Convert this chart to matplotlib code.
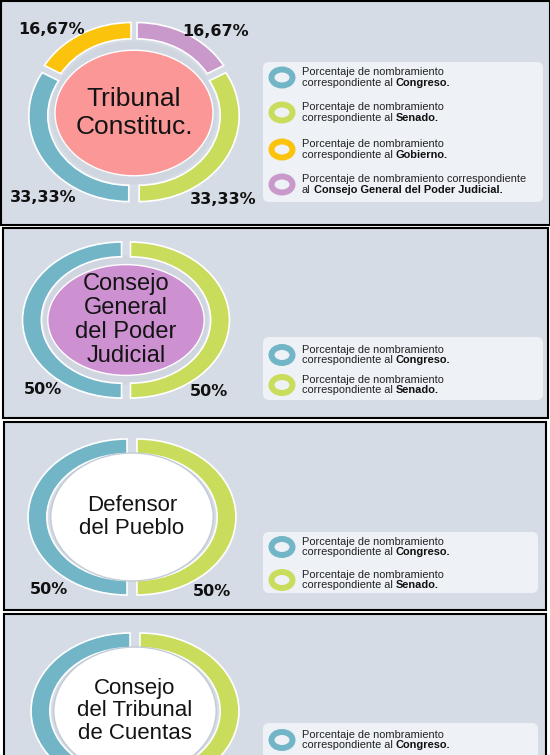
import matplotlib
matplotlib.use("Agg")
import matplotlib.pyplot as plt
from matplotlib.patches import Rectangle, FancyBboxPatch, Ellipse, Circle
from matplotlib.offsetbox import TextArea, HPacker, VPacker, AnnotationBbox

plt.rcParams['font.family'] = ['Liberation Sans', 'DejaVu Sans']

W, H = 550, 755

BG = "#d6dce5"
BOX = "#eef1f5"
BAND = "#cfd6df"
COLORS = {
    "Congreso": "#72b5c7",
    "Senado": "#c9dc5c",
    "Gobierno": "#fcc30c",
    "Consejo General del Poder Judicial": "#c999cc",
}

# --- data (ring order, counter-clockwise from the start angle) ---
TC_BODIES = ["Congreso", "Senado", "Consejo General del Poder Judicial", "Gobierno"]
TC_SHARES = [33.33, 33.33, 16.67, 16.67]
TC_LABELS = ["33,33%", "33,33%", "16,67%", "16,67%"]

CGPJ_BODIES = ["Congreso", "Senado"]
CGPJ_SHARES = [50, 50]
CGPJ_LABELS = ["50%", "50%"]

DP_BODIES = ["Congreso", "Senado"]
DP_SHARES = [50, 50]
DP_LABELS = ["50%", "50%"]

TCU_BODIES = ["Congreso", "Senado"]
TCU_SHARES = [50, 50]

LEGEND_TC = ["Congreso", "Senado", "Gobierno", "Consejo General del Poder Judicial"]
LEGEND_TWO = ["Congreso", "Senado"]

LEGEND_TEXT = {
    "Congreso": ("Porcentaje de nombramiento", "correspondiente al", "Congreso."),
    "Senado": ("Porcentaje de nombramiento", "correspondiente al", "Senado."),
    "Gobierno": ("Porcentaje de nombramiento", "correspondiente al", "Gobierno."),
    "Consejo General del Poder Judicial": ("Porcentaje de nombramiento correspondiente", "al",
                                           "Consejo General del Poder Judicial."),
}

fig = plt.figure(figsize=(W / 100, H / 100), dpi=100, facecolor="white")
ax = fig.add_axes([0, 0, 1, 1])
ax.set_xlim(0, W)
ax.set_ylim(H, 0)
ax.axis("off")


def panel(x, y, w, h):
    ax.add_patch(Rectangle((x, y), w, h, fc=BG, ec="black", lw=1.5))


def legend(box, bodies, ys):
    x0, y0, x1, y1 = box
    ax.add_patch(FancyBboxPatch((x0, y0), x1 - x0, y1 - y0,
                                boxstyle="round,pad=0,rounding_size=6", fc=BOX, ec="none"))
    for body, y in zip(bodies, ys):
        ax.add_patch(Ellipse((282, y), 21, 16, fill=False, ec=COLORS[body], lw=4.3))
        l1, l2, bold = LEGEND_TEXT[body]
        tp = dict(fontsize=7.9, color="#222222")
        line2 = HPacker(children=[TextArea(l2, textprops=tp),
                                  TextArea(bold, textprops=dict(tp, fontweight="bold", color="#111111"))],
                        align="baseline", pad=0, sep=2.2)
        block = VPacker(children=[TextArea(l1, textprops=tp), line2], align="left", pad=0, sep=0.3)
        ab = AnnotationBbox(block, (302, y), xycoords="data", box_alignment=(0, 0.5),
                            frameon=False, pad=0, annotation_clip=False)
        ax.add_artist(ab)


def ring(cx, cy, rx, ry, shares, bodies, start, explode, inner, inner_w, inner_h, width=0.19):
    lim = 1.12
    axp = fig.add_axes([(cx - lim * rx) / W, 1 - (cy + lim * ry) / H,
                        2 * lim * rx / W, 2 * lim * ry / H])
    axp.pie(shares, colors=[COLORS[b] for b in bodies], startangle=start, counterclock=True,
            explode=[explode] * len(shares),
            wedgeprops=dict(width=width, edgecolor="white", linewidth=1.2))
    axp.add_patch(Circle((0, 0), 1 - width + 0.02, fc=BAND, ec="none", zorder=0.5))
    if inner == "white":
        axp.add_patch(Circle((0, 0), 1 - width + 0.01, fc="white", ec="#c3ccd6", lw=1, zorder=2))
    else:
        axp.add_patch(Ellipse((0, 0), 2 * inner_w, 2 * inner_h, fc=inner, ec="white", lw=1, zorder=2))
    axp.set_xlim(-lim, lim)
    axp.set_ylim(-lim, lim)
    axp.set_aspect("auto")
    axp.axis("off")
    return axp


def center_text(axp, s, size, ls):
    axp.text(0, 0, s, ha="center", va="center", fontsize=size, linespacing=ls,
             color="#141414", zorder=3)


def pct_labels(labels, positions):
    for s, (x, y) in zip(labels, positions):
        fig.text(x, y, s, transform=ax.transData, ha="center", va="center",
                 fontsize=11.5, fontweight="bold", family="DejaVu Sans", color="#111111")


# panel 1: Tribunal Constitucional
panel(0.75, 0.75, 549, 224.5)
legend((263, 62, 543, 202), LEGEND_TC, [77.5, 112.5, 149.5, 184.5])
a1 = ring(134, 113, 100, 86, TC_SHARES, TC_BODIES, 150, 0.06, "#fc9797", 0.79, 0.73)
center_text(a1, "Tribunal\nConstituc.", 19, 1.25)
pct_labels(TC_LABELS, [(43, 198), (223, 200), (216, 32), (52, 29)])

# panel 2: Consejo General del Poder Judicial
panel(2.5, 228, 545.5, 190)
legend((263, 337, 543, 400), LEGEND_TWO, [355, 385])
a2 = ring(126, 320, 99, 78, CGPJ_SHARES, CGPJ_BODIES, 90, 0.045, "#cd90d1", 0.79, 0.71)
center_text(a2, "Consejo\nGeneral\ndel Poder\nJudicial", 17, 1.1)
pct_labels(CGPJ_LABELS, [(43, 390), (209, 392)])

# panel 3: Defensor del Pueblo
panel(4, 422, 542, 188)
legend((263, 532, 538, 593), LEGEND_TWO, [547, 580])
a3 = ring(132, 517, 99, 78, DP_SHARES, DP_BODIES, 90, 0.05, "white", 0.81, 0.81)
center_text(a3, "Defensor\ndel Pueblo", 16, 1.1)
pct_labels(DP_LABELS, [(49, 590), (212, 591)])

# panel 4: Consejo del Tribunal de Cuentas
panel(4, 614, 542, 145)
legend((263, 723, 538, 770), ["Congreso"], [740])
a4 = ring(135, 711, 99, 78, TCU_SHARES, TCU_BODIES, 90, 0.05, "white", 0.81, 0.81)
center_text(a4, "Consejo\ndel Tribunal\nde Cuentas", 16, 1.1)

fig.savefig("out.png", dpi=100, facecolor="white")
